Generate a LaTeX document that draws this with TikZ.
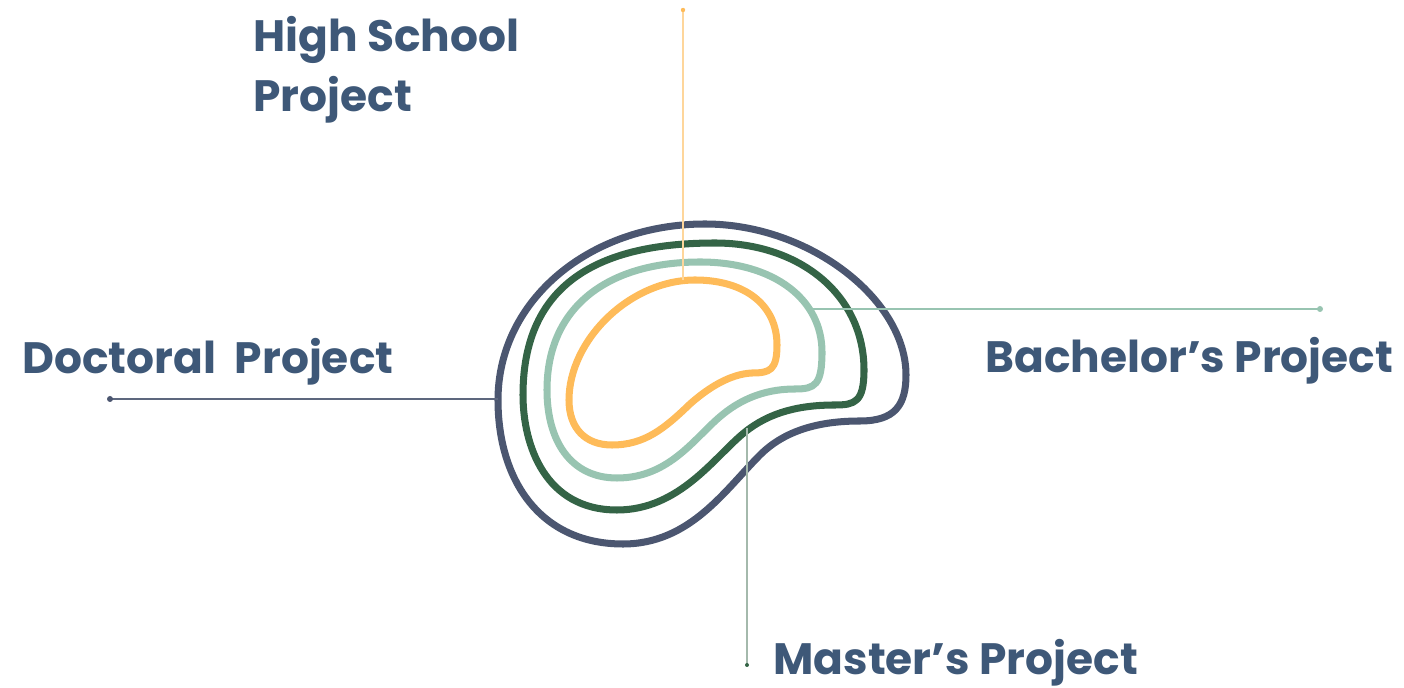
\documentclass[tikz,border=0pt]{standalone}
\usepackage{fontspec}
\setmainfont{Poppins}
\definecolor{txtblue}{HTML}{3E5878}
\definecolor{slate}{HTML}{4B5670}
\definecolor{darkgreen}{HTML}{346446}
\definecolor{lightgreen}{HTML}{98C4B1}
\definecolor{orange}{HTML}{FEBB59}
\begin{document}
\begin{tikzpicture}[x=0.02cm,y=-0.02cm]
        \tikzstyle{ring} = [line width=4pt, line join=round]
        \tikzstyle{label} = [anchor=base west, inner sep=0pt, text=txtblue, font=\fontsize{25}{30}\selectfont\bfseries]
        \tikzstyle{link} = [line width=1.4pt]

		\useasboundingbox (0,0) rectangle (1404,688);

		% rings, outer to inner
		\draw[ring, slate] (498,400) .. controls (498,300) and (590,224) .. (705,224)
			.. controls (810,224) and (906,300) .. (906,375)
			.. controls (906,405) and (895,421) .. (860,421)
			.. controls (820,421) and (785,430) .. (760,455)
			.. controls (725,490) and (690,544) .. (623,544)
			.. controls (540,544) and (498,480) .. cycle;
		\draw[ring, darkgreen] (523,395) .. controls (523,290) and (590,243) .. (715,243)
			.. controls (800,243) and (864,295) .. (864,370)
			.. controls (864,402) and (855,405) .. (835,405)
			.. controls (800,405) and (770,412) .. (745,432)
			.. controls (715,456) and (680,510) .. (617,510)
			.. controls (545,510) and (523,445) .. cycle;
		\draw[ring, lightgreen] (547,390) .. controls (547,305) and (610,262) .. (700,262)
			.. controls (775,262) and (822,300) .. (822,352)
			.. controls (822,385) and (815,389) .. (795,389)
			.. controls (770,389) and (745,396) .. (722,415)
			.. controls (695,437) and (670,478) .. (617,478)
			.. controls (570,478) and (547,440) .. cycle;
		\draw[ring, orange] (569,400) .. controls (569,340) and (630,280) .. (695,280)
			.. controls (745,280) and (777,305) .. (777,345)
			.. controls (777,370) and (770,373) .. (752,373)
			.. controls (730,374) and (708,388) .. (690,404)
			.. controls (665,428) and (645,445) .. (612,445)
			.. controls (585,445) and (569,428) .. cycle;

		% labels
		\node[label] (hs) at (253,52) {High School};
		\node[label] (hsp) at (253,112) {Project};
		\node[label] (doc) at (22,374) {Doctoral\ \ Project};
		\node[label] (bach) at (985,373) {Bachelor’s Project};
		\node[label] (mast) at (773,675) {Master’s Project};

		% connectors
		\coordinate (hsend) at (683,10);
		\coordinate (hsring) at (683,280);
		\coordinate (docend) at (110,399);
		\coordinate (docring) at (498,399);
		\coordinate (bachend) at (1320,309);
		\coordinate (bachring) at (808,309);
		\coordinate (mastend) at (747,665);
		\coordinate (mastring) at (747,428);

		\draw[link, orange!60] (hsring) -- (hsend);
		\fill[orange] (hsend) circle (2.2);
		\draw[link, slate!90] (docring) -- (docend);
		\fill[slate] (docend) circle (3);
		\draw[link, lightgreen] (bachring) -- (bachend);
		\fill[lightgreen] (bachend) circle (3);
		\draw[link, darkgreen!45] (mastring) -- (mastend);
		\fill[darkgreen] (mastend) circle (2);

    \end{tikzpicture}
\end{document}
